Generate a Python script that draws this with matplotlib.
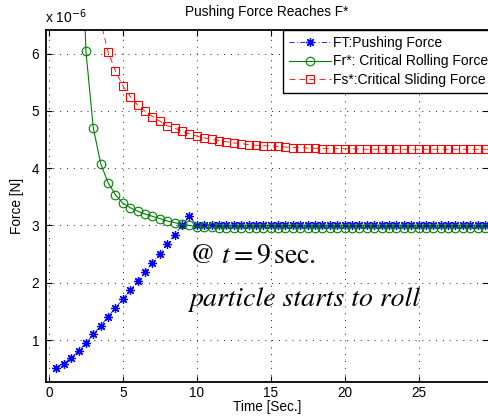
import numpy as np
import matplotlib
matplotlib.use("Agg")
import matplotlib.pyplot as plt

plt.rcParams['font.family'] = ['Liberation Sans', 'DejaVu Sans']
plt.rcParams['mathtext.fontset'] = 'stix'

# time axis [s]
t = np.arange(1, 61) * 0.5

# FT: pushing force (x1e-6 N)
ft = [0.51, 0.59, 0.69, 0.81, 0.95, 1.10, 1.25, 1.41, 1.56, 1.72,
      1.87, 2.03, 2.19, 2.35, 2.51, 2.67, 2.84, 3.00, 3.16, 3.00,
      3.00, 3.00, 3.00, 3.00, 3.00, 3.00, 3.00, 3.00, 3.00, 3.00,
      3.00, 3.00, 3.00, 3.00, 3.00, 3.00, 3.00, 3.00, 3.00, 3.00,
      3.00, 3.00, 3.00, 3.00, 3.00, 3.00, 3.00, 3.00, 3.00, 3.00,
      3.00, 3.00, 3.00, 3.00, 3.00, 3.00, 3.00, 3.00, 3.00, 3.00]

# Fr*: critical rolling force
fr = [150.0, 38.0, 17.0, 9.90, 6.04, 4.70, 4.08, 3.745, 3.535, 3.39,
      3.31, 3.25, 3.20, 3.16, 3.12, 3.08, 3.05, 3.02, 3.00, 2.98,
      2.97, 2.965, 2.96, 2.96, 2.96, 2.96, 2.96, 2.96, 2.96, 2.96,
      2.96, 2.96, 2.96, 2.96, 2.96, 2.96, 2.96, 2.96, 2.96, 2.96,
      2.96, 2.96, 2.96, 2.96, 2.96, 2.96, 2.96, 2.96, 2.96, 2.96,
      2.96, 2.96, 2.96, 2.96, 2.96, 2.96, 2.96, 2.96, 2.96, 2.96]

# Fs*: critical sliding force
fs = [100.0, 30.0, 15.0, 10.5, 8.30, 7.20, 6.55, 6.03, 5.69, 5.44,
      5.25, 5.10, 4.99, 4.90, 4.82, 4.74, 4.70, 4.64, 4.60, 4.56,
      4.53, 4.50, 4.48, 4.46, 4.44, 4.43, 4.41, 4.40, 4.39, 4.39,
      4.38, 4.37, 4.36, 4.36, 4.35, 4.35, 4.34, 4.34, 4.34, 4.34,
      4.34, 4.33, 4.33, 4.33, 4.33, 4.33, 4.33, 4.33, 4.33, 4.33,
      4.33, 4.33, 4.33, 4.33, 4.33, 4.33, 4.33, 4.33, 4.33, 4.33]

xticks = [0, 5, 10, 15, 20, 25]
yticks = [1, 2, 3, 4, 5, 6]

fig = plt.figure(figsize=(4.88, 4.17), dpi=100)
ax = fig.add_axes([46/488, 1 - 382/417, (488 - 46)/488, (382 - 30)/417])

ax.plot(t, ft, color='b', ls=(0, (6, 3, 1, 3)), lw=0.6, marker=(8, 2, 0),
        ms=6.5, mew=0.9, label='FT:Pushing Force')
ax.plot(t, fr, color=(0, 0.5, 0), ls='-', lw=0.8, marker='o', ms=6.2,
        mfc='none', mew=0.8, label='Fr*: Critical Rolling Force')
ax.plot(t, fs, color='r', ls=(0, (7, 5)), lw=0.6, marker='s', ms=5.6,
        mfc='none', mew=0.8, label='Fs*:Critical Sliding Force')

ax.set_xlim(-0.2, 29.7)
ax.set_ylim(0.27, 6.41)
ax.set_xticks(xticks)
ax.set_yticks(yticks)
ax.tick_params(direction='in', length=4, width=0.8, labelsize=9.8,
               top=True, right=True, pad=3)
ax.tick_params(axis='y', pad=5)
ax.grid(True, ls=(0, (1.2, 7)), color='k', lw=0.6)
for s in ['left', 'bottom', 'top']:
    ax.spines[s].set_linewidth(1.3)
ax.spines['right'].set_visible(False)

ax.set_title('Pushing Force Reaches F*', fontsize=9.8, pad=10)
ax.set_xlabel('Time [Sec.]', fontsize=9.8, labelpad=0)
ax.set_ylabel('Force [N]', fontsize=9.8, labelpad=5)
fig.text(45/488, 1 - 23/417, r'x 10$^{-6}$', fontsize=10, va='baseline',
         ha='left', math_fontfamily='dejavusans')

ax.text(9.46, 2.34, r'@ $t = 9\,$sec.', fontsize=20, family='STIXGeneral')
ax.text(9.46, 1.59, 'particle starts to roll', fontsize=20,
        family='STIXGeneral', style='italic')

leg = ax.legend(loc='upper left', bbox_to_anchor=(0.536, 1.0), fontsize=10,
                numpoints=1, handlelength=3.0, handletextpad=0.15,
                borderpad=0.45, labelspacing=0.3, fancybox=False,
                framealpha=1, edgecolor='k', borderaxespad=0)
leg.get_frame().set_linewidth(1.0)

fig.savefig('out.png', dpi=100)
